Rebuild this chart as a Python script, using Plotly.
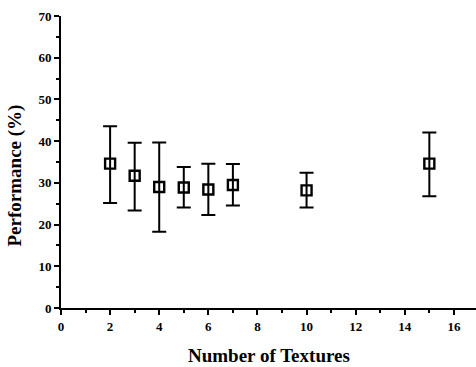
import plotly.graph_objects as go

# Mean performance (%) per texture count, with upper/lower error extents
num_textures = [2, 3, 4, 5, 6, 7, 10, 15]
performance = [34.6, 31.7, 29.0, 28.9, 28.4, 29.5, 28.2, 34.6]
upper_bound = [43.6, 39.6, 39.7, 33.8, 34.6, 34.5, 32.4, 42.1]
lower_bound = [25.2, 23.4, 18.3, 24.1, 22.3, 24.6, 24.1, 26.8]

x_ticks = [0, 2, 4, 6, 8, 10, 12, 14, 16]
y_ticks = [0, 10, 20, 30, 40, 50, 60, 70]

err_plus = [u - m for u, m in zip(upper_bound, performance)]
err_minus = [m - l for m, l in zip(performance, lower_bound)]

font_family = "Liberation Serif, Times New Roman, serif"

fig = go.Figure(
    go.Scatter(
        x=num_textures,
        y=performance,
        mode="markers",
        marker=dict(symbol="square-open", size=10, color="black",
                    line=dict(width=2.4, color="black")),
        error_y=dict(type="data", symmetric=False, array=err_plus,
                     arrayminus=err_minus, color="black", thickness=2,
                     width=7),
        showlegend=False,
    )
)

fig.update_layout(
    width=476,
    height=367,
    margin=dict(l=61, r=0, t=16, b=59),
    paper_bgcolor="white",
    plot_bgcolor="white",
    font=dict(family=font_family, size=13, color="black"),
    xaxis=dict(
        range=[0, 16.9],
        tickvals=x_ticks,
        ticktext=[f"<b>{v}</b>" for v in x_ticks],
        showgrid=False,
        zeroline=False,
        showline=True,
        linecolor="black",
        linewidth=2,
        ticks="outside",
        ticklen=5,
        tickwidth=2,
        tickcolor="black",
        minor=dict(dtick=1, ticks="outside", ticklen=3, tickwidth=1.5,
                   tickcolor="black"),
        tickfont=dict(family=font_family, size=13),
    ),
    yaxis=dict(
        range=[0, 70],
        tickvals=y_ticks,
        ticktext=[f"<b>{v}</b>" for v in y_ticks],
        showgrid=False,
        zeroline=False,
        showline=True,
        linecolor="black",
        linewidth=2,
        ticks="outside",
        ticklen=5,
        tickwidth=2,
        tickcolor="black",
        minor=dict(dtick=5, ticks="outside", ticklen=3, tickwidth=1.5,
                   tickcolor="black"),
        tickfont=dict(family=font_family, size=13),
    ),
    annotations=[
        dict(text="<b>Number of Textures</b>", x=0.5, y=-0.163,
             xref="paper", yref="paper", xanchor="center", yanchor="middle",
             showarrow=False, font=dict(family=font_family, size=19)),
        dict(text="<b>Performance (%)</b>", x=-0.11, y=0.455,
             xref="paper", yref="paper", xanchor="center", yanchor="middle",
             textangle=-90, showarrow=False,
             font=dict(family=font_family, size=19)),
    ],
)

fig.write_html("out.html")
